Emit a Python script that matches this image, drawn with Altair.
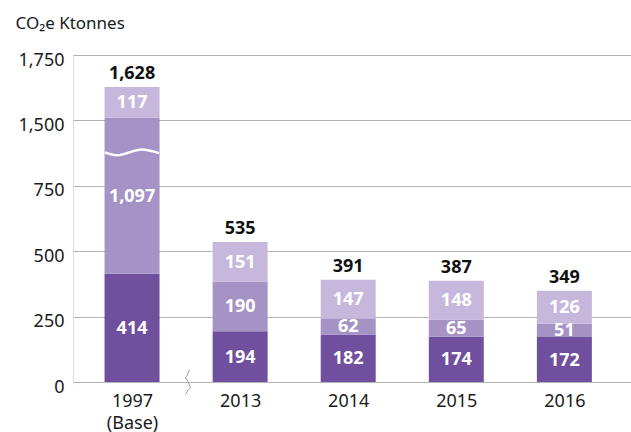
import json
import altair as alt
import pandas as pd

# ---- data ----
years = ["1997 (Base)", "2013", "2014", "2015", "2016"]
year_label_lines = [["1997", "(Base)"], ["2013"], ["2014"], ["2015"], ["2016"]]
seg_bottom = [414, 194, 182, 174, 172]
seg_middle = [1097, 190, 62, 65, 51]
seg_top = [117, 151, 147, 148, 126]
totals = [1628, 535, 391, 387, 349]
segment_names = ["bottom", "middle", "top"]
segment_colors = ["#70509e", "#a593c6", "#c6b8dc"]

# axis break: displayed values above BREAK_AT are real values minus BREAK_SHIFT
BREAK_AT = 1000
BREAK_SHIFT = 500
y_ticks_display = [0, 250, 500, 750, 1000, 1250]

# decorative break marks (index units on x, displayed units on y)
wave_x = [-0.25, -0.14, 0.09, 0.25]
wave_y = [878, 867, 889, 875]
squiggle_x = [0.531, 0.491, 0.522, 0.545, 0.495]
squiggle_y = [48, 16, -3, -22, -48]


def disp(v):
    return v - BREAK_SHIFT if v > BREAK_AT else v


rows = []
for i, yr in enumerate(years):
    start = 0
    for name, vals in zip(segment_names, [seg_bottom, seg_middle, seg_top]):
        end = start + vals[i]
        y0, y1 = disp(start), disp(end)
        rows.append(dict(idx=i, year=yr, seg=name, val=vals[i], y0=y0, y1=y1, mid=(y0 + y1) / 2))
        start = end
seg_df = pd.DataFrame(rows)
tot_df = pd.DataFrame(dict(idx=list(range(len(years))), total=totals,
                           top=[disp(t) for t in totals]))
wave_df = pd.DataFrame(dict(x=wave_x, y=wave_y))
squig_df = pd.DataFrame(dict(x=squiggle_x, y=squiggle_y))

FONT = "Noto Sans"
xscale = alt.Scale(domain=[-0.5, 4.57], nice=False, zero=False)
yscale = alt.Scale(domain=[0, 1250], nice=False)

label_expr_x = json.dumps(year_label_lines) + "[datum.value]"
label_expr_y = (f"datum.value >= {BREAK_AT} ? format(datum.value + {BREAK_SHIFT}, ',') "
                f": format(datum.value, ',')")

xaxis = alt.Axis(values=list(range(len(years))), labelExpr=label_expr_x, grid=False,
                 domain=False, ticks=False, labelPadding=10, labelFontSize=18,
                 labelColor="#1a1a1a", labelLineHeight=22, title=None, labelFont=FONT)
yaxis = alt.Axis(values=y_ticks_display, labelExpr=label_expr_y, grid=True,
                 gridColor="#b3b3b3", gridWidth=1, domain=False, ticks=False,
                 labelPadding=9, labelFontSize=18, labelColor="#1a1a1a", labelFont=FONT,
                 labelOffset=5,
                 title="CO₂e Ktonnes", titleAngle=0, titleAlign="left",
                 titleBaseline="alphabetic", titleX=-58, titleY=-27, titleFontSize=17,
                 titleFontWeight="normal", titleColor="#1a1a1a", titleFont=FONT)

X = alt.X("idx:Q", scale=xscale, axis=xaxis)

bars = alt.Chart(seg_df).mark_bar(size=55).encode(
    x=X,
    y=alt.Y("y0:Q", scale=yscale, axis=yaxis),
    y2="y1:Q",
    color=alt.Color("seg:N", scale=alt.Scale(domain=segment_names, range=segment_colors),
                    legend=None),
)

seg_labels = alt.Chart(seg_df).mark_text(
    color="white", fontWeight="bold", fontSize=18, font=FONT, baseline="middle", dy=1
).encode(x=alt.X("idx:Q", scale=xscale), y=alt.Y("mid:Q", scale=yscale),
         text=alt.Text("val:Q", format=",d"))

tot_labels = alt.Chart(tot_df).mark_text(
    color="#111111", fontWeight="bold", fontSize=18, font=FONT, baseline="alphabetic", dy=-8
).encode(x=alt.X("idx:Q", scale=xscale), y=alt.Y("top:Q", scale=yscale),
         text=alt.Text("total:Q", format=",d"))

wave = alt.Chart(wave_df).mark_line(color="white", strokeWidth=2.5, interpolate="monotone").encode(
    x=alt.X("x:Q", scale=xscale), y=alt.Y("y:Q", scale=yscale))

squiggle = alt.Chart(squig_df).mark_line(color="#999999", strokeWidth=1,
                                         interpolate="monotone", clip=False).encode(
    x=alt.X("x:Q", scale=xscale), y=alt.Y("y:Q", scale=yscale), order=alt.Order("y:Q", sort="descending"))

chart = alt.layer(bars, seg_labels, tot_labels, wave, squiggle).properties(
    width=558, height=327,
    autosize=alt.AutoSizeParams(type="none"),
    padding={"left": 73, "top": 55, "right": 0, "bottom": 50},
).configure_view(stroke=None).configure(font=FONT, background="white")

chart.save("out.html", embed_options={"renderer": "svg", "actions": False})
